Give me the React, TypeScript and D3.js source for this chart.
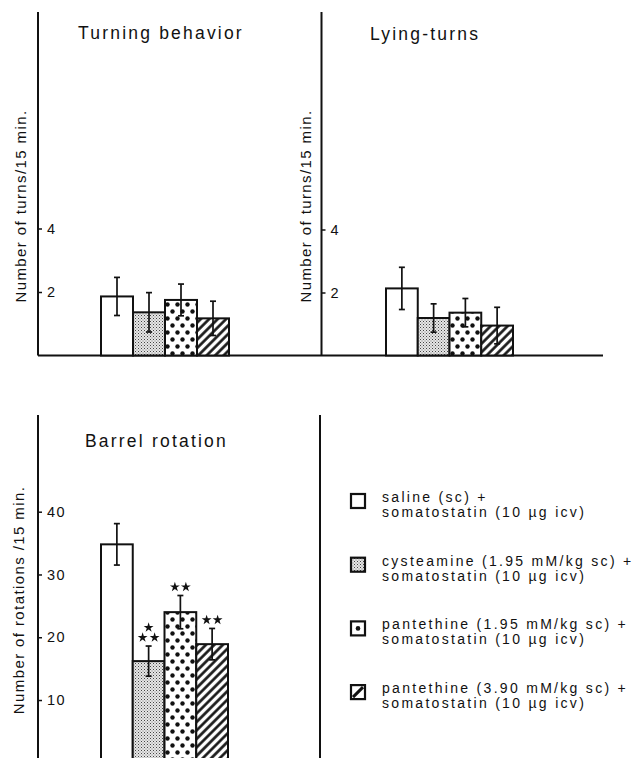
import React, { useRef, useEffect } from 'react'
import * as d3 from 'd3'

// four treatment groups, same order in every panel
const categories = ['saline', 'cysteamine 1.95', 'pantethine 1.95', 'pantethine 3.90']
const fills = ['white', 'url(#stipple)', 'url(#dots)', 'url(#hatch)']

const turningMeans = [1.86, 1.36, 1.75, 1.17]
const turningErrors = [0.6, 0.62, 0.5, 0.54]
const lyingMeans = [2.13, 1.19, 1.36, 0.95]
const lyingErrors = [0.67, 0.45, 0.45, 0.58]
const barrelMeans = [34.8, 16.2, 24.0, 18.9]
const barrelErrors = [3.3, 2.4, 2.65, 2.5]
const barrelStars = [0, 3, 2, 2]

const turnTicks = [2, 4]
const rotationTicks = [10, 20, 30, 40]

const legendLabels = [
  ['saline (sc) +', 'somatostatin (10 µg icv)'],
  ['cysteamine (1.95 mM/kg sc) +', 'somatostatin (10 µg icv)'],
  ['pantethine (1.95 mM/kg sc) +', 'somatostatin (10 µg icv)'],
  ['pantethine (3.90 mM/kg sc) +', 'somatostatin (10 µg icv)'],
]

const FONT = '"Liberation Sans", Arial, Helvetica, sans-serif'
const INK = '#111'

function Axis(props) {
  const ref = useRef(null)
  useEffect(() => {
    const g = d3.select(ref.current)
    g.selectAll('*').remove()
    g.call(d3.axisRight(props.scale).tickValues(props.ticks).tickSize(4).tickPadding(5).tickFormat(d3.format('d')))
    g.select('.domain').remove()
    g.selectAll('text')
      .attr('font-family', FONT)
      .attr('font-size', 14.5)
      .attr('letter-spacing', 1.5)
      .attr('fill', INK)
    g.selectAll('line').attr('stroke', INK).attr('stroke-width', 1.5)
  }, [props.scale])
  return <g ref={ref} transform={`translate(${props.x},0)`} />
}

function Panel(props) {
  const y = d3.scaleLinear().domain([0, props.max]).range(props.yRange)
  const x = d3.scaleBand().domain(categories).range(props.xRange).padding(0)
  const star = d3.symbol().type(d3.symbolStar).size(30)
  const bw = x.bandwidth()

  return (
    <g>
      <line x1={props.axisX} x2={props.axisX} y1={props.axisTop} y2={props.axisBottom} stroke={INK} strokeWidth={2} />
      <Axis scale={y} ticks={props.ticks} x={props.axisX} />
      <text x={props.titleX} y={props.titleY} fontFamily={FONT} fontSize={17.5} letterSpacing={2.2} fill={INK}>
        {props.title}
      </text>
      <text
        transform={`translate(${props.labelX},${props.labelY}) rotate(-90)`}
        textAnchor="middle"
        fontFamily={FONT}
        fontSize={15}
        letterSpacing={1.4}
        fill={INK}
      >
        {props.ylabel}
      </text>
      {props.means.map((m, i) => (
        <rect
          key={'b' + i}
          x={x(categories[i])}
          y={y(m)}
          width={bw}
          height={y(0) - y(m)}
          fill={fills[i]}
          stroke={INK}
          strokeWidth={2}
        />
      ))}
      {props.means.map((m, i) => {
        const cx = x(categories[i]) + bw / 2
        const hi = y(m + props.errors[i])
        const lo = y(m - props.errors[i])
        return (
          <g key={'e' + i} stroke={INK} strokeWidth={1.7}>
            <line x1={cx} x2={cx} y1={hi} y2={lo} />
            <line x1={cx - 3} x2={cx + 3} y1={hi} y2={hi} />
            <line x1={cx - 3} x2={cx + 3} y1={lo} y2={lo} />
          </g>
        )
      })}
      {props.stars &&
        props.stars.map((n, i) => {
          if (!n) return null
          const cx = x(categories[i]) + bw / 2
          const top = y(props.means[i] + props.errors[i]) - 8.5
          const spots = n === 3 ? [[0, -10], [-6, 0], [6, 0]] : [[-5.5, 0], [5.5, 0]]
          return spots.map((s, k) => (
            <path key={'s' + i + k} d={star()} transform={`translate(${cx + s[0]},${top + s[1]})`} fill={INK} />
          ))
        })}
    </g>
  )
}

function Legend() {
  const boxX = 351
  const textX = 382
  const size = 14
  return (
    <g>
      {legendLabels.map((lines, i) => {
        const base = 502 + i * 63.7
        const by = base - 8
        return (
          <g key={i}>
            <rect x={boxX} y={by} width={size} height={size} fill={i === 1 ? 'url(#stipple)' : 'white'} stroke={INK} strokeWidth={2.2} />
            {i === 2 && <circle cx={boxX + size / 2} cy={by + size / 2} r={2.3} fill={INK} />}
            {i === 3 && <line x1={boxX + 2} y1={by + size - 2} x2={boxX + size - 2} y2={by + 2} stroke={INK} strokeWidth={3} />}
            <text x={textX} y={base} fontFamily={FONT} fontSize={14} letterSpacing={2.3} fill={INK}>
              {lines[0]}
            </text>
            <text x={textX} y={base + 15} fontFamily={FONT} fontSize={14} letterSpacing={2.3} fill={INK}>
              {lines[1]}
            </text>
          </g>
        )
      })}
    </g>
  )
}

export default function App() {
  return (
    <svg width={638} height={758} style={{ position: 'absolute', left: 0, top: 0, background: 'white' }}>
      <defs>
        <pattern id="stipple" width={3} height={3} patternUnits="userSpaceOnUse">
          <rect width={3} height={3} fill="#e6e6e6" />
          <rect width={1} height={1} fill="#444" />
          <rect x={1.5} y={1.5} width={1} height={1} fill="#777" />
        </pattern>
        <pattern id="dots" width={10} height={14} patternUnits="userSpaceOnUse">
          <rect width={10} height={14} fill="white" />
          <circle cx={2.5} cy={3.5} r={2.2} fill={INK} />
          <circle cx={7.5} cy={10.5} r={2.2} fill={INK} />
        </pattern>
        <pattern id="hatch" width={6} height={6} patternUnits="userSpaceOnUse" patternTransform="rotate(45)">
          <rect width={6} height={6} fill="white" />
          <line x1={1.5} y1={0} x2={1.5} y2={6} stroke={INK} strokeWidth={2.6} />
        </pattern>
      </defs>

      {/* shared baseline of the two upper panels */}
      <line x1={38} x2={603} y1={355.5} y2={355.5} stroke={INK} strokeWidth={2} />

      <Panel
        title="Turning behavior"
        titleX={78}
        titleY={39}
        ylabel="Number of turns/15 min."
        labelX={25.5}
        labelY={206}
        axisX={38}
        axisTop={12}
        axisBottom={355.5}
        max={4}
        yRange={[355.5, 228.5]}
        xRange={[101, 229]}
        ticks={turnTicks}
        means={turningMeans}
        errors={turningErrors}
      />
      <Panel
        title="Lying-turns"
        titleX={370}
        titleY={40}
        ylabel="Number of turns/15 min."
        labelX={310.5}
        labelY={206}
        axisX={321.5}
        axisTop={12}
        axisBottom={355.5}
        max={4}
        yRange={[355.5, 229.5]}
        xRange={[386, 513]}
        ticks={turnTicks}
        means={lyingMeans}
        errors={lyingErrors}
      />
      <Panel
        title="Barrel rotation"
        titleX={85}
        titleY={447}
        ylabel="Number of rotations /15 min."
        labelX={24}
        labelY={600}
        axisX={38}
        axisTop={415}
        axisBottom={758}
        max={40}
        yRange={[762.8, 511.7]}
        xRange={[101, 228]}
        ticks={rotationTicks}
        means={barrelMeans}
        errors={barrelErrors}
        stars={barrelStars}
      />

      {/* frame line left of the legend */}
      <line x1={320} x2={320} y1={415} y2={758} stroke={INK} strokeWidth={2} />
      <Legend />
    </svg>
  )
}
